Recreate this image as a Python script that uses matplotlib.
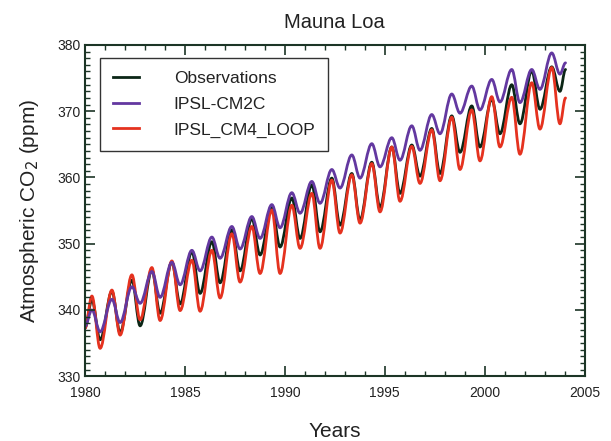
import numpy as np
import matplotlib.pyplot as plt
from matplotlib.path import Path
from matplotlib.patches import PathPatch
from matplotlib.lines import Line2D
from matplotlib.ticker import MultipleLocator

plt.rcParams['font.family'] = ['Liberation Sans', 'DejaVu Sans']

years = np.arange(1980, 2004)

# seasonal maxima (spring) and minima (autumn), ppm
obs_max = [341.5, 342.8, 344.5, 346.0, 347.2, 348.8, 350.3, 352.1, 353.8, 355.6,
           356.9, 358.9, 359.9, 360.6, 362.3, 364.6, 364.9, 367.4, 369.3, 370.8,
           371.8, 374.0, 376.1, 376.7]
obs_min = [335.5, 336.6, 337.6, 339.5, 340.9, 342.5, 344.1, 345.9, 348.3, 349.5,
           350.8, 351.8, 352.8, 353.6, 355.5, 357.6, 360.2, 360.6, 363.8, 364.6,
           366.6, 368.1, 370.3, 373.0]
cm2c_max = [340.0, 341.6, 343.5, 345.8, 347.2, 349.0, 351.0, 352.6, 354.1, 355.9,
            357.7, 359.4, 361.2, 363.4, 365.1, 366.0, 367.8, 369.5, 372.6, 373.8,
            374.8, 376.3, 376.3, 378.8]
cm2c_min = [336.7, 338.1, 341.0, 341.9, 343.8, 345.9, 347.8, 349.2, 350.8, 352.4,
            354.6, 356.1, 358.4, 359.9, 361.6, 362.6, 364.1, 366.6, 369.7, 370.2,
            371.4, 371.3, 373.3, 375.6]
cm4_max = [342.1, 343.0, 345.3, 346.4, 347.4, 347.5, 349.0, 351.5, 352.6, 355.1,
           355.8, 357.6, 359.6, 360.4, 362.1, 364.6, 364.7, 367.2, 369.1, 370.2,
           372.2, 372.1, 374.3, 376.6]
cm4_min = [334.2, 336.2, 338.5, 338.4, 339.9, 339.8, 341.8, 344.2, 345.5, 345.5,
           349.3, 349.3, 351.6, 353.1, 354.8, 356.4, 359.1, 359.5, 361.2, 362.5,
           364.6, 363.5, 367.3, 368.1]

# first and last monthly value of each record
obs_ends = [337.3, 376.3]
cm2c_ends = [337.5, 377.3]
cm4_ends = [337.2, 372.0]
t_start, t_end = 1980.0, 2004.04


def series(vmax, vmin, ends):
    t = [t_start]
    v = [ends[0]]
    for y, hi, lo in zip(years, vmax, vmin):
        t += [y + 0.35, y + 0.76]
        v += [hi, lo]
    t.append(t_end)
    v.append(ends[1])
    return t, v


def wave(t, v):
    # smooth curve through the extremes, flat tangents at each turn
    verts = [(t[0], v[0])]
    codes = [Path.MOVETO]
    for i in range(1, len(t)):
        d = t[i] - t[i - 1]
        verts += [(t[i - 1] + 0.36 * d, v[i - 1]), (t[i] - 0.36 * d, v[i]), (t[i], v[i])]
        codes += [Path.CURVE4] * 3
    return Path(verts, codes)


c_obs = '#0b2616'
c_cm2c = '#6338a0'
c_cm4 = '#e5321f'
frame = '#1c3526'
txt = '#222222'

fig = plt.figure(figsize=(6.11, 4.41), dpi=100)
ax = fig.add_axes([0.139, 0.147, 0.818, 0.751])

for (vmax, vmin, ends), col in [((obs_max, obs_min, obs_ends), c_obs),
                                ((cm4_max, cm4_min, cm4_ends), c_cm4),
                                ((cm2c_max, cm2c_min, cm2c_ends), c_cm2c)]:
    t, v = series(vmax, vmin, ends)
    ax.add_patch(PathPatch(wave(t, v), fill=False, edgecolor=col, lw=2.0,
                           capstyle='round', joinstyle='round'))

ax.set_xlim(1980, 2005)
ax.set_ylim(330, 380)
ax.xaxis.set_major_locator(MultipleLocator(5))
ax.xaxis.set_minor_locator(MultipleLocator(1))
ax.yaxis.set_major_locator(MultipleLocator(10))
ax.yaxis.set_minor_locator(MultipleLocator(1))
ax.tick_params(which='both', direction='in', top=True, right=True, color=frame,
               labelsize=10, labelcolor=txt)
ax.tick_params(which='major', length=7, width=1.2)
ax.tick_params(which='minor', length=3.5, width=1.0)
ax.tick_params(axis='x', pad=7)
ax.tick_params(axis='y', pad=3)
for s in ax.spines.values():
    s.set_color(frame)
    s.set_linewidth(1.5)

ax.set_title('Mauna Loa', fontsize=14.5, pad=12, color=txt)
ax.set_xlabel('Years', fontsize=15, labelpad=16, color=txt)
ax.set_ylabel('Atmospheric CO$_2$ (ppm)', fontsize=15, labelpad=12, color=txt)

handles = [Line2D([], [], color=c_obs, lw=2.0),
           Line2D([], [], color=c_cm2c, lw=2.0),
           Line2D([], [], color=c_cm4, lw=2.0)]
leg = ax.legend(handles, ['Observations', 'IPSL-CM2C', 'IPSL_CM4_LOOP'],
                loc='upper left', bbox_to_anchor=(0.03, 0.96), fontsize=12.5,
                frameon=True, fancybox=False, handlelength=1.5, handletextpad=2.0,
                borderpad=0.75, labelspacing=0.6, borderaxespad=0)
leg.get_frame().set_edgecolor('black')
leg.get_frame().set_linewidth(1.0)
for tx in leg.get_texts():
    tx.set_color(txt)

fig.savefig('out.png', dpi=100)
